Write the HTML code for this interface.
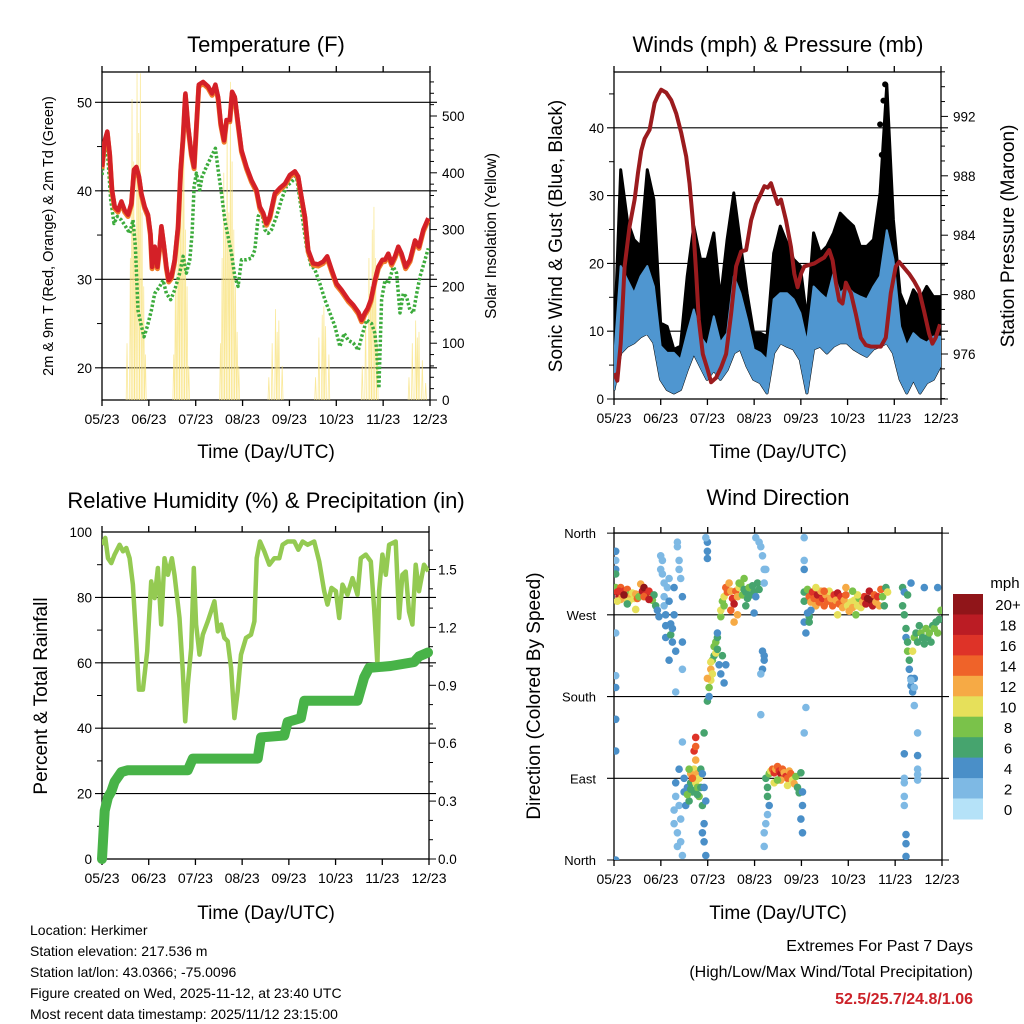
<!DOCTYPE html>
<html><head><meta charset="utf-8"><style>
html,body{margin:0;padding:0;background:#fff;}
svg{display:block;font-family:"Liberation Sans",sans-serif;}
</style></head><body>
<svg id="chart" width="1024" height="1024" viewBox="0 0 1024 1024" xmlns="http://www.w3.org/2000/svg">
<rect width="1024" height="1024" fill="#fff"/>
<g font-size="22" text-anchor="middle" fill="#000">
<text x="266" y="52">Temperature (F)</text>
<text x="778" y="52">Winds (mph) &amp; Pressure (mb)</text>
<text x="266" y="508">Relative Humidity (%) &amp; Precipitation (in)</text>
<text x="778" y="505">Wind Direction</text>
</g>
<g font-size="19" text-anchor="middle">
<text x="266" y="458">Time (Day/UTC)</text>
<text x="778" y="458">Time (Day/UTC)</text>
<text x="266" y="919">Time (Day/UTC)</text>
<text x="778" y="919">Time (Day/UTC)</text>
<text font-size="14.5" transform="translate(53,236) rotate(-90)">2m &amp; 9m T (Red, Orange) &amp; 2m Td (Green)</text>
<text font-size="15.5" transform="translate(496,236) rotate(-90)">Solar Insolation (Yellow)</text>
<text transform="translate(562,236) rotate(-90)">Sonic Wind &amp; Gust (Blue, Black)</text>
<text transform="translate(1014,236) rotate(-90)">Station Pressure (Maroon)</text>
<text transform="translate(47,696) rotate(-90)">Percent &amp; Total Rainfall</text>
<text transform="translate(540,696) rotate(-90)">Direction (Colored By Speed)</text>
</g>
<g font-size="14" fill="#000">
<text x="30" y="935">Location: Herkimer</text>
<text x="30" y="956">Station elevation: 217.536 m</text>
<text x="30" y="977">Station lat/lon: 43.0366; -75.0096</text>
<text x="30" y="998">Figure created on Wed, 2025-11-12, at 23:40 UTC</text>
<text x="30" y="1019">Most recent data timestamp: 2025/11/12 23:15:00</text>
</g>
<g font-size="16" text-anchor="end">
<text x="973" y="951">Extremes For Past 7 Days</text>
<text x="973" y="977">(High/Low/Max Wind/Total Precipitation)</text>
<text x="973" y="1004" font-weight="bold" fill="#cc2229">52.5/25.7/24.8/1.06</text>
</g>
<g id="layer"></g>
</svg>
<script>
// ---------- data ----------
const dateLabels = ["05/23","06/23","07/23","08/23","09/23","10/23","11/23","12/23"];
const tempTicks = [20,30,40,50];
const solarTicks = [0,100,200,300,400,500];
const windTicks = [0,10,20,30,40];
const pressTicks = [976,980,984,988,992];
const rhTicks = [0,20,40,60,80,100];
const rainTicks = ["0.0","0.3","0.6","0.9","1.2","1.5"];
const dirLabels = ["North","East","South","West","North"];
const speedLabels = ["0","2","4","6","8","10","12","14","16","18","20+"];
const speedColors = ["#b5e2f8","#7eb9e4","#4a8fc8","#46a46e","#7ac24a","#e6e05a","#f6aa45","#ef6329","#de3328","#bb1c24","#901519"];

const tempRed = [[0,42.7],[1.6,45.7],[3.2,46.7],[4.6,44.2],[6,40.1],[7.6,38.2],[9.6,37.8],[11.6,38.8],[13.6,37.8],[15.6,37.3],[17.6,38.6],[19.2,42.4],[20.6,42.7],[22.2,41.6],[23.6,39.7],[25.6,38.2],[27.6,37.3],[29,35.2],[30,31.4],[31.6,33.7],[33.2,31.4],[34.6,33.7],[35.6,36.0],[37.2,33.7],[38.6,31.4],[40,29.9],[41.6,30.3],[43.6,32.2],[45.6,36.0],[47.2,42.4],[48.6,46.1],[50,51.0],[51.6,47.3],[53.6,44.2],[55.2,42.7],[56.6,47.3],[58,52.0],[60.6,52.3],[63.6,51.8],[66,51.0],[68,52.0],[69.6,50.6],[71.2,47.6],[73.2,45.7],[74.6,48.0],[76.6,48.0],[78,51.2],[79.6,50.6],[81.6,47.6],[83.6,44.6],[86.6,42.7],[89.6,41.2],[92.6,40.1],[94.6,38.2],[96.6,37.5],[98.6,36.3],[100.6,37.1],[103.6,39.7],[106.6,40.3],[109.6,40.8],[112.6,41.8],[115.6,42.2],[117.6,41.6],[119.6,39.3],[121.6,37.1],[123.6,33.3],[126.6,31.8],[129.6,31.7],[132.6,32.0],[135,32.6],[137.6,31.1],[140.6,29.5],[143.6,28.8],[147.6,27.7],[150.6,27.1],[153.6,26.3],[155.6,25.4],[157.6,26.2],[159.2,26.7],[161.2,27.7],[163.6,29.9],[165.6,31.4],[168,32.2],[169.6,32.2],[171.6,32.9],[173.6,31.8],[175.6,32.6],[177.6,33.7],[179.6,32.9],[182,31.4],[184.6,32.2],[187.6,34.4],[190,33.7],[192.6,35.6],[195.6,36.9]];
const tempDew = [[0,41.8],[2,45.0],[3.6,43.5],[5.2,39.0],[7.2,36.3],[9.2,37.1],[11.6,36.7],[14,36.0],[16.6,35.2],[18.6,36.7],[20,33.7],[21.6,26.5],[23.6,24.7],[25.2,23.5],[27.2,24.7],[29.6,26.5],[31.6,28.4],[34.6,29.2],[36.6,29.9],[38.6,28.4],[41.2,27.7],[43.6,28.8],[46.6,30.7],[48.6,32.6],[50.6,30.7],[52.6,32.2],[54,35.2],[55.2,40.5],[56.6,42.0],[58.6,40.1],[60,41.6],[62.6,42.7],[65.6,43.9],[68,44.8],[69.6,42.4],[71.6,39.7],[73.6,36.7],[75.6,34.8],[77.6,32.9],[79.6,30.3],[81.6,29.2],[83.6,32.2],[86.6,32.2],[89.6,32.4],[91.6,33.3],[93.6,37.1],[95.6,37.8],[97.6,35.6],[99.6,35.2],[101.6,35.6],[104.6,37.1],[107.6,39.0],[110.6,40.5],[113.6,41.0],[116.6,41.6],[118.6,39.0],[120.6,36.3],[122.6,33.7],[125.2,31.6],[127.6,31.1],[130.6,29.5],[133.6,27.7],[136.6,26.2],[139.6,24.7],[142.6,22.4],[145.2,23.9],[147.6,23.1],[150.6,22.8],[153.6,22.0],[155.6,23.5],[158.6,25.4],[161.6,25.0],[163.6,23.9],[164.6,22.0],[166,17.7],[167.6,27.7],[169.6,29.9],[171.6,29.5],[174.6,31.4],[176.6,30.7],[178.6,26.2],[180.6,28.4],[182.6,28.0],[184.6,26.5],[186.6,26.2],[188.6,28.4],[190.6,30.3],[193.6,32.2],[195.6,33.5]];
const solarPeaks = [[15,100],[17,250],[18,530],[19,420],[20,300],[21,575],[22,470],[23,575],[24,330],[25,200],[26,80],[43,80],[44,200],[45,240],[46,320],[47,450],[48,380],[49,520],[50,300],[51,200],[52,60],[71,100],[72,250],[73,400],[74,300],[75,480],[76,330],[77,560],[78,420],[79,300],[80,200],[81,120],[82,60],[100,40],[102,100],[104,160],[105,120],[106,140],[108,60],[128,40],[130,110],[132,150],[133,165],[134,130],[136,80],[156,60],[158,150],[160,250],[161,200],[162,300],[163,340],[164,250],[165,100],[184,40],[186,100],[188,140],[189,110],[190,120],[192,70],[194,30]];

const windDays = [0,4,8,12,16,20,24,28,32,36,40,44,48,52,56,60,64,68,72,76,80,84,88,92,96,100,104,108,112,116,120,124,128,132,136,140,144,148,152,156,160,164,168,172,176,180,184,188,192,196];
const windLo = [1.4,6.8,7.8,8.3,9.2,9.7,8.3,2.9,1.4,0.9,1.4,4.3,6.8,4.8,2.9,4.3,2.9,4.3,6.8,7.4,4.8,2.9,2.4,0.9,6.8,8.3,7.8,7.4,5.8,0.9,7.4,7.8,6.8,7.8,8.3,8.3,7.4,6.8,6.3,7.4,7.8,8.3,6.8,2.9,0.9,2.9,0.9,2.4,2.9,4.8];
const windHi = [5.8,19.6,17.6,15.6,18.1,19.6,16.6,7.8,6.8,6.8,5.8,9.7,13.2,9.2,7.8,12.2,8.3,9.7,18.1,15.6,11.7,7.3,6.8,5.8,14.7,15.6,15.6,14.7,12.7,8.3,16.6,15.6,14.7,18.6,15.6,16.6,15.6,15.1,14.7,16.6,18.1,24.9,20.6,10.7,7.8,9.7,8.8,8.3,9.2,9.2];
const gustHi = [7.3,33.8,26.4,23.5,22.5,33.8,29.4,11.2,10.7,7.3,7.8,18.1,25.5,20.6,20.6,24.5,14.7,23.5,30.4,23.0,15.6,9.7,9.7,9.2,21.5,25.5,23.0,20.6,19.6,11.7,24.5,21.5,22.5,24.5,27.4,26.4,25.5,22.5,22.5,23.5,30.4,46.4,26.4,15.6,13.2,16.1,14.7,16.6,15.1,15.1];
const pressure = [[0,974.7],[2,974.2],[4,976.7],[6.4,981.9],[9.4,984.6],[12.4,986.4],[14.4,988.2],[16.4,989.7],[18.4,990.5],[21.4,991.1],[24.4,992.9],[26.4,993.4],[28.4,993.8],[31.4,993.6],[34.4,993.1],[37.4,992.2],[40.4,990.9],[43.4,989.3],[45.4,987.5],[47.4,985.0],[49.4,981.4],[51,978.3],[53.4,976.0],[56.4,974.9],[58.4,974.1],[61.4,974.4],[64.4,975.1],[67.4,976.0],[70.4,978.7],[73.4,981.9],[76.4,982.9],[79.4,983.0],[82.4,985.0],[85.4,986.1],[88.4,986.8],[90.4,987.3],[92.4,987.2],[94.4,987.5],[96.4,986.8],[98.4,986.1],[100.4,986.4],[103.4,985.0],[106.4,983.2],[108.4,981.4],[110.4,980.5],[112.4,981.4],[114.4,981.9],[117.4,982.0],[120.4,982.1],[123.4,982.3],[126.4,982.5],[129.4,983.0],[131.4,982.3],[133.4,980.8],[135.4,979.6],[137.4,979.4],[139.4,980.8],[142.4,980.1],[145.4,978.7],[148.4,977.1],[151.4,976.6],[154.4,976.5],[157.4,976.5],[160.4,976.5],[163.4,977.1],[166.4,980.1],[169.4,981.9],[171.4,982.2],[174.4,981.8],[177.4,981.4],[180.4,980.9],[183.4,980.3],[186.4,978.9],[189.4,977.4],[191.4,976.7],[193.4,977.1],[196,978.0]];
const gustSpikes = [[160,40.5],[161,36],[162,44],[163,46.4],[163.5,33]];

const rhSeries = [[0,96.1],[2,98.2],[3.6,92.0],[5.6,90.5],[7.6,93.1],[10.6,96.1],[12.6,94.1],[14.6,95.1],[16.6,92.0],[18.6,83.9],[20.6,66.6],[22.2,51.8],[24.6,51.8],[27.2,63.5],[29.6,84.9],[31.6,79.8],[33.6,89.0],[35.6,71.7],[37.6,92.0],[39.6,86.9],[42,92.0],[43.6,86.9],[46.6,73.7],[48.6,57.4],[50,42.1],[51.6,53.3],[53.6,64.5],[55.2,89.0],[56.6,71.7],[58.6,62.5],[60.6,68.6],[63.6,72.7],[67.6,78.8],[69.6,69.6],[71.6,71.7],[73.6,67.6],[75.6,66.6],[77.6,58.4],[79.6,43.1],[81.6,51.3],[83.6,62.5],[86.6,67.6],[89.6,68.6],[91.6,72.7],[93,92.0],[95,97.1],[97.6,94.1],[100.6,90.0],[103.6,92.0],[106.6,92.0],[108.6,96.1],[111.6,97.1],[115.6,97.1],[118,94.6],[120.6,97.1],[123.6,96.1],[127.6,97.1],[130.6,91.0],[133.6,81.9],[135.6,77.8],[138,82.9],[140.6,81.9],[142.6,73.7],[144.6,83.9],[147.6,80.8],[150.6,85.9],[153.6,80.8],[155.6,92.0],[158.6,93.1],[161.6,91.0],[163.6,76.8],[165.6,59.4],[166.6,81.9],[168.6,93.1],[170.6,86.9],[172.6,96.1],[176.6,97.1],[178.6,73.7],[180.6,86.9],[182.6,87.9],[184.6,75.7],[186.6,71.7],[188.6,90.0],[190.6,81.9],[193.6,90.0],[196.2,88.0]];
const rainSeries = [[0,0.0],[1.6,0.25],[3.6,0.32],[5.6,0.35],[7.6,0.40],[11.6,0.45],[15.6,0.46],[51.6,0.46],[54.6,0.52],[93.6,0.52],[95.6,0.63],[109.6,0.64],[111.6,0.71],[119.6,0.73],[121.6,0.82],[153.6,0.82],[157.6,0.94],[160.6,0.99],[173.6,1.00],[187.6,1.02],[190.6,1.05],[196,1.07]];

const dirPoints = [[1,300,8],[2,295,16],[3,290,18],[4,300,14],[5,292,12],[6,296,16],[7,288,10],[8,298,14],[9,292,8],[10,290,12],[11,294,10],[12,288,10],[13,293,12],[14,288,14],[15,290,8],[16,304,12],[17,296,18],[18,300,20],[19,292,16],[20,290,20],[21,296,16],[22,288,12],[23,286,8],[24,292,6],[25,280,6],[26,275,4],[27,268,4],[4,287,12],[9,285,10],[18,290,14],[13,276,10],[21,287,18],[3,296,16],[6,292,20],[2,285,10],[8,282,6],
[1,340,4],[1,330,2],[1,320,4],[1,315,6],[1,250,2],[1,203,2],[1,190,4],[1,155,4],[1,120,4],[1,0,4],
[28,320,2],[29,330,2],[29,315,2],[30,305,2],[30,290,2],[30,280,2],[31,270,4],[31,258,4],[31,245,4],[32,300,2],[33,310,2],[33,285,4],[34,260,4],[34,248,6],[35,240,4],[36,300,4],[36,270,4],[37,230,4],[38,350,2],[38,345,2],[39,330,2],[39,320,2],[40,310,2],[41,290,4],[41,240,4],[41,210,2],[33,220,4],[28,335,2],[35,255,4],[37,185,2],
[36,55,2],[36,40,2],[37,85,4],[37,70,2],[38,30,2],[38,15,2],[39,100,4],[39,60,2],[40,45,2],[40,20,2],[41,5,2],[41,130,2],[42,90,4],[42,75,4],[43,60,4],[44,80,4],[45,65,6],[46,85,6],[47,75,6],[48,95,8],[48,100,10],[49,85,10],[49,110,12],[50,95,12],[50,80,8],[51,90,10],[51,70,8],[46,95,12],[47,90,14],[48,120,16],[49,135,16],[49,125,14],[52,100,6],[52,80,6],[53,95,4],[53,60,6],[54,40,4],[54,20,4],[55,5,4],[55,65,4],[54,140,6],[54,80,4],[53,30,4],[45,100,8],[44,72,8],[50,72,6],[46,78,6],
[56,175,6],[57,180,4],[57,190,8],[58,198,10],[58,210,12],[59,205,10],[59,220,8],[60,225,6],[60,235,8],[61,240,8],[61,228,10],[62,245,6],[62,250,4],[63,215,4],[64,205,4],[65,225,6],[66,195,4],[67,215,4],[56,200,12],[58,218,10],[62,232,6],
[56,350,4],[56,340,4],[56,332,4],[55,355,2],
[64,268,8],[64,275,10],[65,285,8],[66,290,10],[67,300,14],[68,295,14],[69,305,12],[70,296,12],[71,288,16],[72,282,18],[73,296,14],[74,290,12],[75,300,10],[76,304,8],[77,292,8],[78,298,6],[79,295,6],[80,288,6],[81,300,8],[82,292,6],[83,302,6],[84,295,6],[85,290,4],[86,305,6],[87,298,6],[70,275,14],[74,270,12],[66,280,8],[79,280,6],[84,272,4],[72,262,12],[75,305,8],[78,310,8],
[85,355,2],[87,350,2],[88,345,2],[89,335,2],[90,320,2],[90,305,2],[91,320,2],[89,230,4],[90,225,4],[90,220,4],[89,210,4],[88,205,2],[88,160,2],
[91,90,6],[92,80,6],[92,70,6],[93,95,8],[94,98,10],[95,100,14],[96,96,16],[97,100,12],[98,103,14],[99,98,16],[100,95,18],[101,100,14],[102,96,12],[103,92,16],[104,90,14],[105,98,12],[106,95,14],[107,88,10],[108,84,12],[109,92,8],[110,80,6],[111,74,6],[112,96,6],[113,75,4],[113,60,4],[112,45,4],[113,30,4],[114,140,2],[92,50,2],[91,40,2],[90,30,2],[90,15,2],[93,60,4],[96,85,10],[100,88,12],[104,82,10],[98,88,8],
[114,355,2],[114,330,2],[114,320,4],[114,295,6],[114,285,6],[114,262,4],[115,250,4],[115,168,2],
[116,298,8],[117,290,14],[118,284,12],[119,295,16],[120,288,14],[121,280,12],[122,292,18],[123,284,14],[124,296,12],[125,288,16],[126,280,14],[127,292,12],[128,285,14],[129,296,10],[130,288,12],[131,280,14],[132,292,16],[133,286,12],[134,294,18],[135,282,14],[136,290,16],[137,278,12],[138,286,12],[139,292,14],[140,280,10],[141,274,12],[142,284,10],[143,278,12],[144,286,10],[145,270,8],[146,280,10],[147,288,8],[148,278,10],[149,284,12],[150,290,16],[151,282,18],[152,288,20],[153,296,18],[154,286,20],[155,280,18],[156,292,14],[157,284,12],[158,290,16],[159,280,12],[160,298,14],[161,290,8],[162,280,6],[163,300,6],[164,295,10],[118,275,4],[117,268,6],[116,272,4],[117,262,6],[121,300,10],[126,296,14],[139,300,12],[146,292,10],[134,270,10],[143,296,8],
[173,300,6],[174,295,4],[173,280,6],[174,270,6],[175,255,6],[175,245,4],[176,240,6],[176,230,8],[177,220,6],[177,210,4],[178,200,4],[178,192,4],[179,185,4],[180,190,2],[180,200,4],[179,230,10],[180,245,8],[181,250,6],[182,240,6],[183,258,6],[184,250,8],[185,245,6],[186,238,6],[187,255,8],[188,245,6],[189,250,8],[190,240,6],[191,258,6],[192,255,8],[193,262,6],[194,250,8],[195,265,6],[196,275,8],[178,305,4],[186,300,4],[194,300,4],[176,292,6],[178,198,2],[180,170,2],
[174,117,4],[174,90,2],[174,85,2],[174,70,2],[174,60,2],[175,28,4],[175,18,4],[175,4,4],[182,115,4],[182,100,2],[182,94,2],[182,88,2],[182,140,2]];

// ---------- scales ----------
const SPAN = 196.6;
const P1 = {x0:102,x1:430,y0:72,y1:400};
const P2 = {x0:614,x1:941,y0:72,y1:399};
const P3 = {x0:102,x1:429,y0:532,y1:859};
const P4 = {x0:614,x1:942,y0:533,y1:860};
const xs = (P,d) => P.x0 + d/SPAN*(P.x1-P.x0);
const yTemp = v => 102.3 + (50-v)*8.85;
const ySolar = v => 400 - v*0.568;
const yWind = v => 399 - v*6.78;
const yPress = v => 354 - (v-976)*14.85;
const yRH = v => 859 - v*3.27;
const yRain = v => 859 - v*193;
const yDir = v => 860 - v*0.908;

const NS = "http://www.w3.org/2000/svg";
const layer = document.getElementById("layer");
function el(tag, attrs, parent){
  const e = document.createElementNS(NS, tag);
  for (const k in attrs) e.setAttribute(k, attrs[k]);
  (parent||layer).appendChild(e);
  return e;
}
function pathOf(P, pts, yf){ return pts.map((p,i)=>(i?"L":"M")+xs(P,p[0]).toFixed(1)+","+yf(p[1]).toFixed(1)).join(""); }
function clip(id,P){
  const cp = el("clipPath",{id:id});
  el("rect",{x:P.x0,y:P.y0,width:P.x1-P.x0,height:P.y1-P.y0},cp);
}
clip("c1",P1);clip("c2",P2);clip("c3",P3);clip("c4",P4);

function frame(P, name){
  const g = el("g",{});
  
  
  el("rect",{x:P.x0,y:P.y0,width:P.x1-P.x0,height:P.y1-P.y0,fill:"none",stroke:"#000","stroke-width":1.3},g);
  dateLabels.forEach((lab,i)=>{
    const x = P.x0 + i*(P.x1-P.x0)/7;
    el("line",{x1:x,x2:x,y1:P.y1,y2:P.y1+6,stroke:"#000","stroke-width":1.3},g);
    el("line",{x1:x,x2:x,y1:P.y0,y2:P.y0-6,stroke:"#000","stroke-width":1.3},g);
    const t = el("text",{x:x,y:P.y1+24,"font-size":14,"text-anchor":"middle"},g);
    t.textContent = lab;
    
    
  });
  return g;
}
function hgrid(P,y,g){ el("line",{x1:P.x0-7,x2:P.x1+7,y1:y,y2:y,stroke:"#000","stroke-width":1.1},g); }
function ltick(P,y,g,len){ el("line",{x1:P.x0-len,x2:P.x0,y1:y,y2:y,stroke:"#000","stroke-width":1},g); }
function rtick(P,y,g,len){ el("line",{x1:P.x1,x2:P.x1+len,y1:y,y2:y,stroke:"#000","stroke-width":1},g); }
function label(x,y,txt,anchor,g,size){
  const t = el("text",{x:x,y:y,"font-size":size||13.5,"text-anchor":anchor},g);
  t.textContent = txt;
  
  
}

// ---------- Panel 1 ----------
const g1 = frame(P1,"temperature");
tempTicks.forEach(v=>{hgrid(P1,yTemp(v),g1);label(P1.x0-10,yTemp(v)+5,String(v),"end",g1);});
[25,35,45].forEach(v=>ltick(P1,yTemp(v),g1,5));
for(let v=0;v<=575;v+=20){ if(v%100) rtick(P1,ySolar(v),g1,4); }
solarTicks.forEach(v=>{rtick(P1,ySolar(v),g1,7);label(P1.x1+12,ySolar(v)+5,String(v),"start",g1);});
const d1 = el("g",{"clip-path":"url(#c1)"});
solarPeaks.forEach(p=>{
  const s = el("path",{d:"M"+xs(P1,p[0]-0.5)+","+ySolar(0)+"L"+xs(P1,p[0])+","+ySolar(p[1])+"L"+xs(P1,p[0]+0.5)+","+ySolar(0),fill:"none",stroke:"#f8e27a","stroke-width":0.8,"stroke-opacity":0.75},d1);
  
  
});
const dew = el("path",{d:pathOf(P1,tempDew,yTemp),fill:"none",stroke:"#3cab3c","stroke-width":3.5,"stroke-dasharray":"2.5 2","stroke-linejoin":"round"},d1);


const t9 = el("path",{d:pathOf(P1,tempRed,yTemp),fill:"none",stroke:"#f07c2a","stroke-width":5,"stroke-linejoin":"round",transform:"translate(0,1.8)"},d1);


const t2 = el("path",{d:pathOf(P1,tempRed,yTemp),fill:"none",stroke:"#d42027","stroke-width":4.5,"stroke-linejoin":"round"},d1);



// ---------- Panel 2 ----------
const g2 = frame(P2,"winds");
windTicks.forEach(v=>{hgrid(P2,yWind(v),g2);label(P2.x0-10,yWind(v)+5,String(v),"end",g2);});
[5,15,25,35,45].forEach(v=>ltick(P2,yWind(v),g2,5));
for(let v=973;v<=995;v++){ rtick(P2,yPress(v),g2,(v%4===0)?7:4); }
pressTicks.forEach(v=>label(P2.x1+12,yPress(v)+5,String(v),"start",g2));
const d2 = el("g",{"clip-path":"url(#c2)"});
function band(P, days, lo, hi, yf){
  let top = days.map((d,i)=>xs(P,d).toFixed(1)+","+yf(hi[i]).toFixed(1));
  let bot = days.map((d,i)=>xs(P,d).toFixed(1)+","+yf(lo[i]).toFixed(1)).reverse();
  return "M"+top.join("L")+"L"+bot.join("L")+"Z";
}
const gust = el("path",{d:band(P2,windDays,windLo,gustHi,yWind),fill:"#000",stroke:"#000","stroke-width":3,"stroke-linejoin":"round"},d2);


gustSpikes.forEach(p=>{
  const c = el("circle",{cx:xs(P2,p[0]),cy:yWind(p[1]),r:3,fill:"#000"},d2);
  
  
});
const sonic = el("path",{d:band(P2,windDays,windLo,windHi,yWind),fill:"#4f96d0",stroke:"#4f96d0","stroke-width":2,"stroke-linejoin":"round"},d2);


const pr = el("path",{d:pathOf(P2,pressure,yPress),fill:"none",stroke:"#9b1b1e","stroke-width":4,"stroke-linejoin":"round"},d2);



// ---------- Panel 3 ----------
const g3 = frame(P3,"humidity");
rhTicks.forEach(v=>{ if(v>0&&v<100) hgrid(P3,yRH(v),g3); label(P3.x0-10,yRH(v)+5,String(v),"end",g3);});
[10,30,50,70,90].forEach(v=>ltick(P3,yRH(v),g3,5));
for(let k=0;k<=16;k++){ rtick(P3,yRain(k*0.1),g3,(k%3===0)?7:4); }
rainTicks.forEach(v=>label(P3.x1+9,yRain(parseFloat(v))+5,v,"start",g3));
const d3 = el("g",{"clip-path":"url(#c3)"});
const rh = el("path",{d:pathOf(P3,rhSeries,yRH),fill:"none",stroke:"#94ca52","stroke-width":4.5,"stroke-linejoin":"round"},d3);


const rn = el("path",{d:pathOf(P3,rainSeries,yRain),fill:"none",stroke:"#48b348","stroke-width":10,"stroke-linejoin":"round","stroke-linecap":"round"},layer);



// ---------- Panel 4 ----------
const g4 = frame(P4,"wind-direction");
dirLabels.forEach((lab,i)=>{ const y=yDir(i*90); hgrid(P4,y,g4); label(P4.x0-18,y+5,lab,"end",g4,13); });
const d4 = el("g",{"clip-path":"url(#c4)"});
dirPoints.forEach(p=>{
  const bin = Math.min(10, Math.max(0, Math.round(p[2]/2)));
  const c = el("circle",{cx:xs(P4,p[0]).toFixed(1),cy:yDir(p[1]).toFixed(1),r:3.8,fill:speedColors[bin]},d4);
  
  
});
// colorbar
const cb = el("g",{});


const cbTop = 594, cbH = 225/11;
speedLabels.forEach((lab,i)=>{
  const idx = 10-i;
  const r = el("rect",{x:953,y:(cbTop+i*cbH).toFixed(1),width:30,height:(cbH+0.5).toFixed(1),fill:speedColors[idx]},cb);
  
  
  const t = el("text",{x:1008,y:(cbTop+i*cbH+cbH/2+6).toFixed(1),"font-size":15,"text-anchor":"middle"},cb);
  t.textContent = speedLabels[idx];
  
  
});
const mph = el("text",{x:1005,y:588,"font-size":15,"text-anchor":"middle"},cb);
mph.textContent = "mph";


</script>
</body></html>
